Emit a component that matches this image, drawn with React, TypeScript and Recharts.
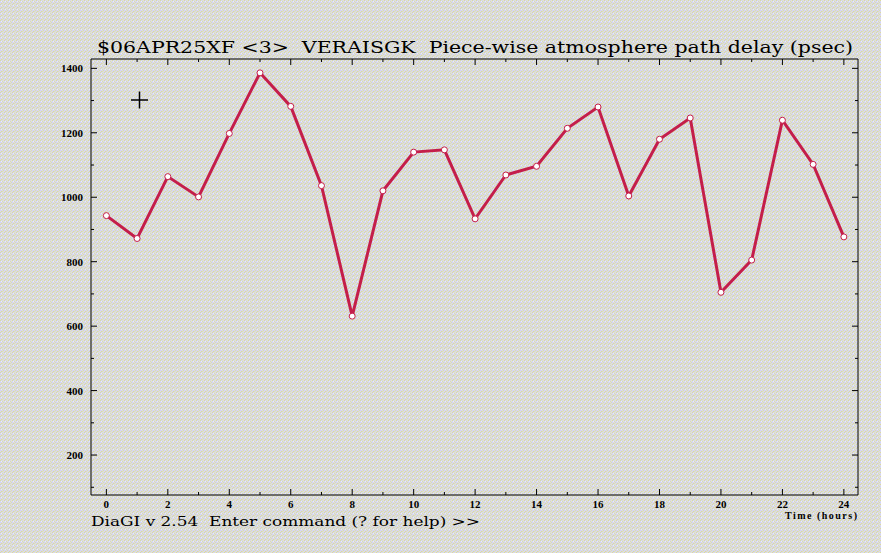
import React from "react";
import { LineChart, Line, XAxis, YAxis } from "recharts";

// hours and delay values (psec)
const hours = [0, 1, 2, 3, 4, 5, 6, 7, 8, 9, 10, 11, 12, 13, 14, 15, 16, 17, 18, 19, 20, 21, 22, 23, 24];
const delays = [943, 872, 1064, 1001, 1198, 1386, 1282, 1036, 631, 1020, 1140, 1147, 933, 1069, 1096, 1214, 1280, 1004, 1180, 1246, 705, 805, 1239, 1102, 877];

const yTicks = [100, 200, 300, 400, 500, 600, 700, 800, 900, 1000, 1100, 1200, 1300, 1400];
const xTicks = hours;

const titleText = "$06APR25XF <3>  VERAISGK  Piece-wise atmosphere path delay (psec)";
const promptText = "DiaGI v 2.54  Enter command (? for help) >>";
const xAxisName = "Time (hours)";

const data = hours.map((h, i) => ({ hour: h, delay: delays[i] }));

const RED = "#c41e4a";
const tickFont = { fontFamily: "Liberation Serif", fontWeight: 700, fontSize: 11 };

const LeftTick = (props: any) => {
  const { x, y, payload } = props;
  const major = payload.value % 200 === 0;
  return (
    <g>
      <line x1={x} x2={x + (major ? 6 : 3)} y1={y} y2={y} stroke="#000" />
      {major && (
        <text x={x - 8} y={y + 4} textAnchor="end" fill="#000" {...tickFont}>
          {payload.value}
        </text>
      )}
    </g>
  );
};

const RightTick = (props: any) => {
  const { x, y, payload } = props;
  const major = payload.value % 200 === 0;
  return <line x1={x - (major ? 6 : 3)} x2={x} y1={y} y2={y} stroke="#000" />;
};

const BottomTick = (props: any) => {
  const { x, y, payload } = props;
  const major = payload.value % 2 === 0;
  return (
    <g>
      <line x1={x} x2={x} y1={y - (major ? 6 : 3)} y2={y} stroke="#000" />
      {major && (
        <text x={x} y={y + 13} textAnchor="middle" fill="#000" {...tickFont}>
          {payload.value}
        </text>
      )}
    </g>
  );
};

const TopTick = (props: any) => {
  const { x, y, payload } = props;
  const major = payload.value % 2 === 0;
  return <line x1={x} x2={x} y1={y} y2={y + (major ? 6 : 3)} stroke="#000" />;
};

export default function App() {
  return (
    <div style={{ position: "absolute", left: 0, top: 0, width: 881, height: 553, overflow: "hidden" }}>
      <svg width={881} height={553} style={{ position: "absolute", left: 0, top: 0 }}>
        <defs>
          <pattern id="noise" width={4} height={4} patternUnits="userSpaceOnUse">
            <rect width={4} height={4} fill="#d6d6f0" />
            <rect x={0} y={0} width={1} height={1} fill="#dcdc9c" />
            <rect x={2} y={1} width={1} height={1} fill="#e0e0a6" />
            <rect x={1} y={3} width={1} height={1} fill="#dcdc9c" />
            <rect x={3} y={2} width={1} height={1} fill="#e0e0a6" />
            <rect x={2} y={3} width={1} height={1} fill="#e2e2b0" />
            <rect x={1} y={1} width={1} height={1} fill="#e8eef8" />
            <rect x={3} y={0} width={1} height={1} fill="#e4e8c8" />
          </pattern>
        </defs>
        <rect width={881} height={553} fill="url(#noise)" />
      </svg>

      <div style={{ position: "absolute", left: 0, top: 0 }}>
        <LineChart width={881} height={553} data={data} margin={{ top: 58, right: 22, bottom: 38, left: 41 }}>
          <XAxis
            xAxisId="bottom"
            dataKey="hour"
            type="number"
            domain={[-0.5, 24.46]}
            ticks={xTicks}
            interval={0}
            height={20}
            tickSize={0}
            tickMargin={0}
            tickLine={false}
            axisLine={{ stroke: "#000" }}
            tick={<BottomTick />}
            allowDataOverflow
          />
          <XAxis
            xAxisId="top"
            orientation="top"
            dataKey="hour"
            type="number"
            domain={[-0.5, 24.46]}
            ticks={xTicks}
            interval={0}
            height={1}
            tickSize={0}
            tickMargin={0}
            tickLine={false}
            axisLine={{ stroke: "#000" }}
            tick={<TopTick />}
            allowDataOverflow
          />
          <YAxis
            yAxisId="left"
            type="number"
            domain={[76, 1429]}
            ticks={yTicks}
            interval={0}
            width={50}
            tickSize={0}
            tickMargin={0}
            tickLine={false}
            axisLine={{ stroke: "#000" }}
            tick={<LeftTick />}
            allowDataOverflow
          />
          <YAxis
            yAxisId="right"
            orientation="right"
            type="number"
            domain={[76, 1429]}
            ticks={yTicks}
            interval={0}
            width={1}
            tickSize={0}
            tickMargin={0}
            tickLine={false}
            axisLine={{ stroke: "#000" }}
            tick={<RightTick />}
            allowDataOverflow
          />
          {/* invisible twin so the top/right frame axes get bound to the data */}
          <Line
            xAxisId="top"
            yAxisId="right"
            dataKey="delay"
            stroke="none"
            dot={false}
            activeDot={false}
            isAnimationActive={false}
          />
          <Line
            xAxisId="bottom"
            yAxisId="left"
            type="linear"
            dataKey="delay"
            stroke={RED}
            strokeWidth={3}
            dot={{ r: 3, fill: "#fff", stroke: RED, strokeWidth: 1 }}
            isAnimationActive={false}
          />
        </LineChart>
      </div>

      <svg width={881} height={553} style={{ position: "absolute", left: 0, top: 0, pointerEvents: "none" }}>
        <text x={97} y={53} fontFamily="DejaVu Serif" fontSize={17} fill="#000" textLength={756} lengthAdjust="spacingAndGlyphs" style={{ whiteSpace: "pre" }}>
          {titleText}
        </text>
        <text x={91} y={526} fontFamily="DejaVu Serif" fontSize={13} fill="#000" textLength={389} lengthAdjust="spacingAndGlyphs" style={{ whiteSpace: "pre" }}>
          {promptText}
        </text>
        <text x={785} y={519} fontFamily="Liberation Serif" fontWeight={700} fontSize={10} fill="#000" textLength={72} lengthAdjust="spacing">
          {xAxisName}
        </text>
        <g stroke="#000" strokeWidth={1.5}>
          <line x1={131} x2={148} y1={100} y2={100} />
          <line x1={139.5} x2={139.5} y1={91.5} y2={108.5} />
        </g>
      </svg>
    </div>
  );
}
